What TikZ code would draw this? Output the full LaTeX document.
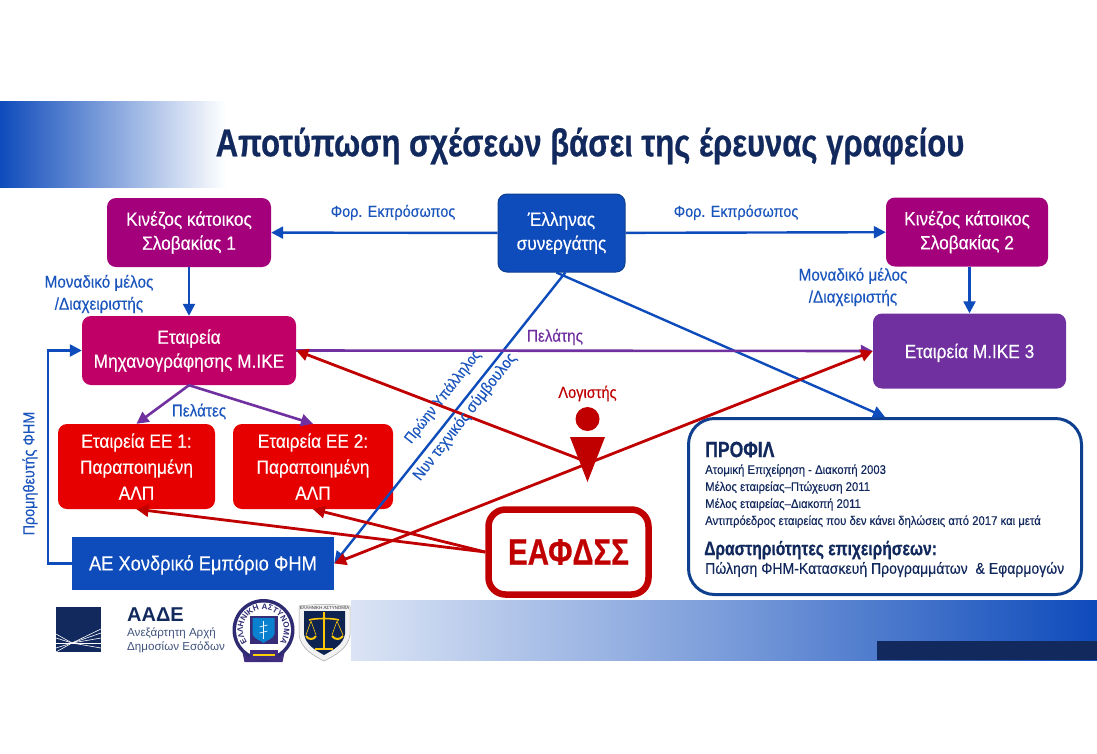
\documentclass[tikz,border=0pt]{standalone}
\usepackage{fontspec}
\setmainfont[FakeStretch=0.9,FakeBold=0.25,BoldFeatures={FakeStretch=0.8,FakeBold=0.6}]{Liberation Sans}
\newfontfamily\widefont{Liberation Sans}
\usetikzlibrary{arrows.meta,decorations.text,calc}
\definecolor{cblue}{HTML}{0E4BBB}
\definecolor{cnavy}{HTML}{12295E}
\definecolor{cmag}{HTML}{A5007C}
\definecolor{cmech}{HTML}{C00066}
\definecolor{cpur}{HTML}{7030A0}
\definecolor{cred}{HTML}{E60000}
\definecolor{cdred}{HTML}{C00000}
\definecolor{cfrm}{HTML}{0F3F8F}
\definecolor{clab}{HTML}{1A55BE}
\tikzset{
  boxn/.style={rounded corners=9pt,inner sep=0pt,align=center,text=white,font=\fontsize{19.2}{24}\selectfont,execute at begin node={\rule{0pt}{18pt}}},
  lab/.style={inner sep=0pt,align=center,text=clab,font=\fontsize{17}{22}\selectfont},
  bluearr/.style={draw=cblue,line width=2.4pt,-{Triangle[length=12pt,width=12pt]}},
  purarr/.style={draw=cpur,line width=2.6pt,-{Triangle[length=12pt,width=12pt]}},
  redarr/.style={draw=cdred,line width=2.8pt,-{Triangle[length=12pt,width=12pt]}},
  ptxt/.style={inner sep=0pt,anchor=west,text=cnavy},
}
\begin{document}
\begin{tikzpicture}[x=1pt,y=-1pt]
\useasboundingbox (0,0) rectangle (1097,753);
\fill[white] (0,0) rectangle (1097,753);
% bands
\shade[left color=cblue,right color=white] (0,101) rectangle (226,187);
\shade[left color=white!85!cblue,right color=cblue,middle color=white!45!cblue] (351,600) rectangle (1097,660);
\fill[cnavy] (877,641) rectangle (1097,660);
% title
\node[inner sep=0pt,text=cnavy,font=\fontsize{38.8}{42}\selectfont\bfseries] (title) at (590,146) {Αποτύπωση σχέσεων βάσει της έρευνας γραφείου};
% boxes
\node[boxn,fill=cmag,minimum width=164pt,minimum height=69pt] (k1) at (189,232.5) {Κινέζος κάτοικος\\Σλοβακίας 1};
\node[boxn,fill=cblue,draw=cfrm,line width=1pt,minimum width=127pt,minimum height=78pt] (gr) at (561.5,233) {Έλληνας\\συνεργάτης};
\node[boxn,fill=cmag,minimum width=162pt,minimum height=69pt] (k2) at (967,232) {Κινέζος κάτοικος\\Σλοβακίας 2};
\node[boxn,fill=cmech,minimum width=214pt,minimum height=69pt] (mech) at (189,350.5) {Εταιρεία\\Μηχανογράφησης Μ.ΙΚΕ};
\node[boxn,fill=cpur,minimum width=193pt,minimum height=75pt] (m3) at (969.5,351) {Εταιρεία Μ.ΙΚΕ 3};
\node[boxn,fill=cred,minimum width=157pt,minimum height=85pt,font=\fontsize{19.2}{26}\selectfont] (ee1) at (136.5,466.5) {Εταιρεία ΕΕ 1:\\Παραποιημένη\\ΑΛΠ};
\node[boxn,fill=cred,minimum width=160pt,minimum height=85pt,font=\fontsize{19.2}{26}\selectfont] (ee2) at (313,466.5) {Εταιρεία ΕΕ 2:\\Παραποιημένη\\ΑΛΠ};
\node[boxn,rounded corners=0pt,fill=cblue,minimum width=262pt,minimum height=53pt,font=\fontsize{20.3}{24}\selectfont] (ae) at (203,563.5) {ΑΕ Χονδρικό Εμπόριο ΦΗΜ};
% connectors under figure
\draw[bluearr] (gr) -- (k1);
\draw[bluearr] (gr) -- (k2);
\draw[bluearr] (k1.south -| mech.north) -- (mech.north);
\draw[bluearr] (k2.south -| m3.north) -- (m3.north);
\coordinate (gb1) at ($(gr.south west)!0.53!(gr.south east)$);
\coordinate (gb2) at ($(gr.south west)!0.46!(gr.south east)$);
\node[inner sep=0pt,fill=white,draw=cfrm,line width=3pt,rounded corners=26pt,minimum width=393pt,minimum height=176pt] (prof) at (885,506.5) {};
\draw[bluearr] (gb1) -- (ae.east);
\draw[bluearr] (gb2) -- (prof.north);
\draw[purarr] (mech.east) -- (m3.west);
\draw[purarr] (mech.south) -- (ee1.north);
\draw[purarr] (mech.south) -- (ee2.north);
\coordinate (corner1) at (48,563.5);
\coordinate (corner2) at (48,350.5);
\draw[bluearr] (ae.west) -- (corner1) -- (corner2) -- (mech.west);
% EAFDSS
\node[inner sep=0pt,fill=white,draw=cdred,line width=6.5pt,rounded corners=17pt,minimum width=160pt,minimum height=85pt,text=cdred,font=\fontsize{36.8}{40}\selectfont\bfseries] (ea) at (568.5,552) {ΕΑΦΔΣΣ};
% red connectors
\coordinate (figpt) at (582,460);
\draw[redarr] (figpt) -- (mech.east);
\draw[redarr,{Triangle[length=12pt,width=12pt]}-{Triangle[length=12pt,width=12pt]}] (ae.east) -- (m3.west);
\draw[redarr] (ea.west) -- (ee1.south);
\draw[redarr] (ea.west) -- (ee2.south);
% accountant
\node[circle,fill=cdred,minimum size=24pt,inner sep=0pt] (head) at (587.5,419) {};
\fill[cdred] (570,437) -- (605,437) -- (587.5,482) -- cycle;
\node[inner sep=0pt,text=cdred,font=\fontsize{16.2}{18}\selectfont] (logist) at (587.5,393.5) {Λογιστής};
% labels
\node[lab,font=\fontsize{16}{22}\selectfont] (l1) at (393,212.5) {Φορ. Εκπρόσωπος};
\node[lab,font=\fontsize{16}{22}\selectfont] (l2) at (736,212.5) {Φορ. Εκπρόσωπος};
\node[lab] (l3) at (99,294) {Μοναδικό μέλος\\/Διαχειριστής};
\node[lab] (l4) at (853,287) {Μοναδικό μέλος\\/Διαχειριστής};
\node[lab,text=cpur] (l5) at (555,337) {Πελάτης};
\node[lab] (l6) at (199,411.5) {Πελάτες};
\node[lab,rotate=90,font=\fontsize{16}{22}\selectfont] (l7) at (30,473.5) {Προμηθευτής ΦΗΜ};
\node[lab,rotate=52,font=\fontsize{15}{22}\selectfont] (l8) at (443,397) {Πρώην Υπάλληλος};
\node[lab,rotate=52,font=\fontsize{16}{22}\selectfont] (l9) at (465,417) {Νυν τεχνικός σύμβουλος};
% profile text
\node[ptxt,font=\fontsize{22}{24}\selectfont\bfseries] (p0) at (705,449.5) {ΠΡΟΦΙΛ};
\node[ptxt,font=\fontsize{12.6}{14}\selectfont] (p1) at (705,470.5) {Ατομική Επιχείρηση - Διακοπή 2003};
\node[ptxt,font=\fontsize{12.6}{14}\selectfont] (p2) at (705,487.5) {Μέλος εταιρείας–Πτώχευση 2011};
\node[ptxt,font=\fontsize{12.6}{14}\selectfont] (p3) at (705,504.5) {Μέλος εταιρείας–Διακοπή 2011};
\node[ptxt,font=\fontsize{12.6}{14}\selectfont] (p4) at (705,521.5) {Αντιπρόεδρος εταιρείας που δεν κάνει δηλώσεις από 2017 και μετά};
\node[ptxt,font=\fontsize{19.5}{20}\selectfont\bfseries] (p5) at (704,550) {Δραστηριότητες επιχειρήσεων:};
\node[ptxt,font=\fontsize{15.6}{18}\selectfont] (p6) at (705,569.5) {Πώληση ΦΗΜ-Κατασκευή Προγραμμάτων\ \ \& Εφαρμογών};
% AADE logo
\fill[cnavy] (56,607) rectangle (101,652);
\coordinate (fan) at (72,643);
\foreach \a/\b in {101/629,101/633,101/638,101/643,101/648,56/634,56/638,56/643,56/648,56/652}{
  \draw[white,line width=.6pt] (fan) -- (\a,\b);
}
\node[inner sep=0pt,anchor=west,text=cnavy,font=\widefont\fontsize{20}{22}\selectfont\bfseries] (aade) at (127,615) {ΑΑΔΕ};
\node[inner sep=0pt,anchor=north west,align=left,text=cnavy!80,font=\widefont\fontsize{11.6}{14}\selectfont] (aade2) at (127,628) {Ανεξάρτητη Αρχή\\Δημοσίων Εσόδων};
% police badge
\begin{scope}[shift={(263.5,630)},y=1pt]
\fill[cnavy!50!cpur] (-22,-18) -- (22,-18) -- (19,-32) -- (-19,-32) -- cycle;
\fill[cnavy!70!cpur] (0,0) circle (31);
\fill[white] (0,0) circle (27.5);
\fill[cnavy!60!cpur] (-14,14) rectangle (14,-14);
\fill[cblue!70!cyan] (-11,12) -- (11,12) -- (11,-4) .. controls (10,-9) and (3,-10) .. (0,-13) .. controls (-3,-10) and (-10,-9) .. (-11,-4) -- cycle;
\draw[white,line width=1pt] (0,9) -- (0,-9);
\draw[white,line width=.6pt] (-4,3) -- (4,5) (-4,-3) -- (4,-1);
\path[decorate,decoration={text along path,text align=center,text={|\widefont\fontsize{8}{9}\selectfont\bfseries\color{cnavy!70!cpur}|ΕΛΛΗΝΙΚΗ ΑΣΤΥΝΟΜΙΑ}}] (215:20.5) arc (215:-35:20.5);
\fill[cnavy!50!cpur] (-14,-20) -- (14,-20) -- (14,-30) -- (-14,-30) -- cycle;
\draw[yellow!70!orange,line width=1.6pt] (-11,-25) -- (11,-25);
\end{scope}
% justice shield
\fill[gray!10] (299,606) .. controls (315,604) and (333,604) .. (350,606) -- (350,635) .. controls (348,648) and (336,655) .. (324,661) .. controls (312,655) and (301,648) .. (299,635) -- cycle;
\draw[gray!70,line width=.5pt] (299,606) .. controls (315,604) and (333,604) .. (350,606) -- (350,635) .. controls (348,648) and (336,655) .. (324,661) .. controls (312,655) and (301,648) .. (299,635) -- cycle;
\fill[cnavy!85!black] (304,611) -- (345,611) -- (345,634) .. controls (343,645) and (333,650) .. (324,655) .. controls (315,650) and (306,645) .. (304,634) -- cycle;
\node[inner sep=0pt,text=black!80,font=\widefont\fontsize{4.4}{5}\selectfont] (shtxt) at (324.5,608) {ΕΛΛΗΝΙΚΗ ΑΣΤΥΝΟΜΙΑ};
\begin{scope}[draw=yellow!60!orange,line width=1.6pt]
\draw (324,612) -- (324,649);
\draw (309,620) .. controls (315,618) and (333,618) .. (339,620);
\draw[line width=2pt] (315,649) -- (333,649);
\draw[line width=.6pt] (311,621) -- (306,635) (311,621) -- (316,635) (337,621) -- (332,635) (337,621) -- (343,635);
\draw[line width=2pt] (306,636) .. controls (308,640) and (314,640) .. (316,636);
\draw[line width=2pt] (332,636) .. controls (335,640) and (340,640) .. (343,636);
\end{scope}
\end{tikzpicture}
\end{document}
